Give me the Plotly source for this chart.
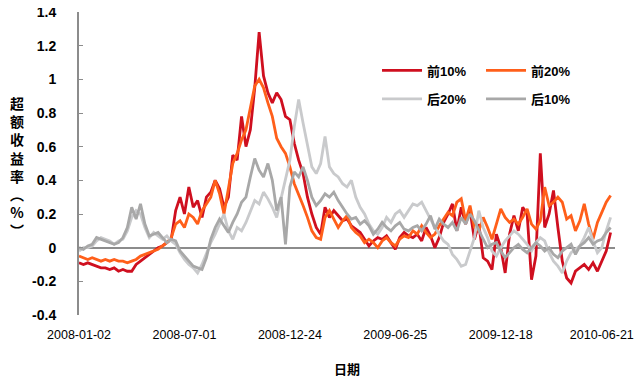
import plotly.graph_objects as go

# Excess return (%) series, sampled roughly every 5 trading days (index = sample number)
top10 = [-0.09, -0.10, -0.09, -0.10, -0.11, -0.12, -0.12, -0.13, -0.12, -0.14,
         -0.13, -0.14, -0.14, -0.10, -0.08, -0.06, -0.04, -0.02, 0.00, 0.01,
         0.03, 0.05, 0.22, 0.30, 0.20, 0.36, 0.24, 0.28, 0.18, 0.30,
         0.33, 0.40, 0.35, 0.24, 0.30, 0.55, 0.52, 0.78, 0.60, 0.70,
         0.95, 1.28, 1.02, 0.92, 0.86, 0.92, 0.88, 0.78, 0.76, 0.62,
         0.52, 0.44, 0.30, 0.20, 0.12, 0.08, 0.24, 0.18, 0.22, 0.19,
         0.16, 0.17, 0.13, 0.11, 0.09, 0.05, 0.01, 0.04, 0.06, 0.05,
         0.07, 0.03, -0.01, 0.06, 0.09, 0.07, 0.06, 0.08, 0.04, 0.12,
         0.07, 0.00, 0.06, 0.15, 0.20, 0.26, 0.10, 0.24, 0.14, 0.22,
         0.05, 0.14, -0.06, -0.08, -0.13, 0.08, 0.00, -0.15, 0.08, 0.19,
         0.10, 0.24, 0.20, -0.19, -0.05, 0.56, 0.12, 0.20, 0.34, 0.12,
         -0.08, -0.18, -0.21, -0.14, -0.12, -0.10, -0.13, -0.09, -0.14, -0.08,
         -0.02, 0.09]

top20 = [-0.05, -0.06, -0.07, -0.06, -0.07, -0.08, -0.07, -0.08, -0.07, -0.08,
         -0.08, -0.09, -0.08, -0.07, -0.05, -0.04, -0.03, -0.02, -0.01, 0.01,
         0.03, 0.06, 0.14, 0.16, 0.12, 0.20, 0.18, 0.14, 0.22, 0.26,
         0.30, 0.40, 0.32, 0.20, 0.34, 0.50, 0.56, 0.64, 0.70, 0.84,
         0.96, 1.00, 0.95, 0.86, 0.78, 0.65, 0.60, 0.56, 0.48, 0.38,
         0.32, 0.25, 0.18, 0.10, 0.06, 0.05, 0.18, 0.22, 0.17, 0.12,
         0.16, 0.19, 0.12, 0.09, 0.07, 0.03, 0.05, 0.03, 0.00, 0.04,
         0.06, 0.03, 0.01, 0.05, 0.07, 0.06, 0.10, 0.08, 0.13, 0.09,
         0.06, 0.08, 0.13, 0.17, 0.21, 0.19, 0.27, 0.29, 0.16, 0.25,
         0.12, 0.10, 0.18, 0.12, 0.05, 0.14, 0.23, 0.18, 0.15, 0.17,
         0.14, 0.18, 0.23, 0.14, 0.11, 0.16, 0.36, 0.25, 0.27, 0.30,
         0.27, 0.17, 0.19, 0.10, 0.16, 0.26, 0.14, 0.05, 0.15, 0.21,
         0.27, 0.31]

bottom20 = [-0.02, 0.00, 0.00, 0.01, 0.04, 0.06, 0.05, 0.04, 0.02, 0.04,
            0.05, 0.10, 0.18, 0.22, 0.20, 0.12, 0.06, 0.09, 0.07, 0.05,
            0.07, 0.04, 0.02, -0.03, -0.07, -0.10, -0.12, -0.15, -0.10, -0.03,
            0.03, 0.08, 0.14, 0.20, 0.10, 0.05, 0.12, 0.10, 0.15, 0.22,
            0.28, 0.26, 0.33, 0.29, 0.24, 0.18, 0.30, 0.42, 0.52, 0.72,
            0.88, 0.74, 0.62, 0.48, 0.44, 0.50, 0.66, 0.48, 0.44, 0.42,
            0.38, 0.36, 0.40, 0.30, 0.24, 0.20, 0.14, 0.10, 0.08, 0.12,
            0.18, 0.15, 0.20, 0.22, 0.18, 0.22, 0.26, 0.25, 0.27, 0.22,
            0.17, 0.12, 0.08, 0.04, 0.02, -0.04, -0.07, -0.11, -0.10, -0.02,
            0.06, 0.22, 0.12, 0.06, -0.02, -0.05, 0.00, 0.04, 0.07, 0.10,
            0.08, 0.05, 0.02, -0.02, 0.03, 0.06, 0.04, -0.03, -0.08, -0.11,
            -0.15, -0.08, -0.03, -0.01, 0.01, 0.06, 0.12, 0.04, -0.03, 0.00,
            0.10, 0.18]

bottom10 = [0.00, -0.01, 0.01, 0.02, 0.06, 0.05, 0.04, 0.03, 0.02, 0.03,
            0.06, 0.12, 0.24, 0.17, 0.26, 0.14, 0.07, 0.08, 0.09, 0.06,
            0.03, 0.05, 0.04, -0.02, -0.05, -0.08, -0.11, -0.12, -0.13, -0.06,
            0.05, 0.12, 0.17, 0.13, 0.09, 0.15, 0.20, 0.27, 0.30, 0.42,
            0.53, 0.46, 0.42, 0.50, 0.40, 0.22, 0.30, 0.02, 0.36, 0.45,
            0.42, 0.48, 0.40, 0.30, 0.25, 0.28, 0.32, 0.30, 0.33, 0.28,
            0.24, 0.20, 0.17, 0.18, 0.14, 0.16, 0.13, 0.08, 0.11, 0.15,
            0.12, 0.10, 0.13, 0.15, 0.11, 0.10, 0.12, 0.13, 0.10, 0.14,
            0.19, 0.11, 0.17, 0.14, 0.12, 0.15, 0.10, 0.18, 0.14, 0.20,
            0.16, 0.10, 0.05, 0.00, 0.02, 0.03, -0.02, -0.06, -0.03, 0.00,
            0.02, -0.01, -0.03, 0.00, 0.03, 0.01, -0.02, 0.00, -0.04, -0.06,
            -0.02, 0.00, 0.02, -0.04, 0.01, 0.03, 0.06, 0.02, 0.04, 0.05,
            0.09, 0.12]

series_names = ["前10%", "前20%", "后20%", "后10%"]
series_values = [top10, top20, bottom20, bottom10]
series_colors = ["#CF0F1F", "#FF5F1A", "#C9CACC", "#A8A8A8"]
series_legends = ["legend", "legend", "legend2", "legend2"]

x_tick_pos = [0, 24, 48, 72, 96, 119]
x_tick_labels = ["2008-01-02", "2008-07-01", "2008-12-24", "2009-06-25", "2009-12-18", "2010-06-21"]
y_tick_vals = [-0.4, -0.2, 0, 0.2, 0.4, 0.6, 0.8, 1, 1.2, 1.4]
y_tick_labels = ["-0.4", "-0.2", "0", "0.2", "0.4", "0.6", "0.8", "1", "1.2", "1.4"]

fig = go.Figure()
for name, vals, col, lg in zip(series_names, series_values, series_colors, series_legends):
    fig.add_trace(go.Scatter(
        x=list(range(len(vals))), y=vals, mode="lines", name=name,
        line=dict(color=col, width=2.8), legend=lg,
    ))

font_main = "Liberation Sans, Arial, Noto Sans CJK SC"
legend_font = dict(size=13, family="Liberation Sans, Noto Sans CJK SC", weight="bold")
# the page body adds an 8px margin, so the figure is 8px smaller than the window
fig.update_layout(
    width=634, height=373,
    margin=dict(l=71, r=27, t=4, b=66),
    paper_bgcolor="white", plot_bgcolor="white",
    font=dict(family=font_main, color="black", size=13),
    xaxis=dict(
        range=[0, 122], showgrid=False, showline=False, automargin=False,
        zeroline=False, tickmode="array", tickvals=x_tick_pos, ticktext=x_tick_labels,
        ticks="", ticklabelstandoff=10, ticklabeloverflow="allow",
        tickfont=dict(size=12.5, family=font_main),
        title=dict(text="<b>日期</b>", font=dict(size=13, family="Noto Sans CJK SC"), standoff=24),
    ),
    yaxis=dict(
        range=[-0.4, 1.4], showgrid=False, showline=True, linecolor="#8C8C8C", linewidth=2,
        automargin=False,
        zeroline=True, zerolinecolor="#8C8C8C", zerolinewidth=2,
        tickmode="array", tickvals=y_tick_vals, ticktext=y_tick_labels,
        ticks="inside", ticklen=4, tickcolor="#8C8C8C", tickwidth=1,
        ticklabelstandoff=18, ticklabeloverflow="allow",
        tickfont=dict(size=14, family=font_main, weight="bold"),
    ),
    legend=dict(
        orientation="h", x=0.556, y=0.807, xanchor="left", yanchor="middle",
        bgcolor="rgba(0,0,0,0)", font=legend_font,
        entrywidth=49, tracegroupgap=0, itemwidth=40,
    ),
    legend2=dict(
        orientation="h", x=0.556, y=0.713, xanchor="left", yanchor="middle",
        bgcolor="rgba(0,0,0,0)", font=legend_font,
        entrywidth=49, tracegroupgap=0, itemwidth=40,
    ),
    annotations=[dict(
        text="超<br>额<br>收<br>益<br>率<br>︵<br>%<br>︶", xref="paper", yref="paper",
        x=-0.1157, y=0.49, xanchor="center", yanchor="middle", showarrow=False,
        font=dict(size=14, family="Noto Sans CJK SC", weight="bold"),
    )],
)

fig.write_html("out.html")
